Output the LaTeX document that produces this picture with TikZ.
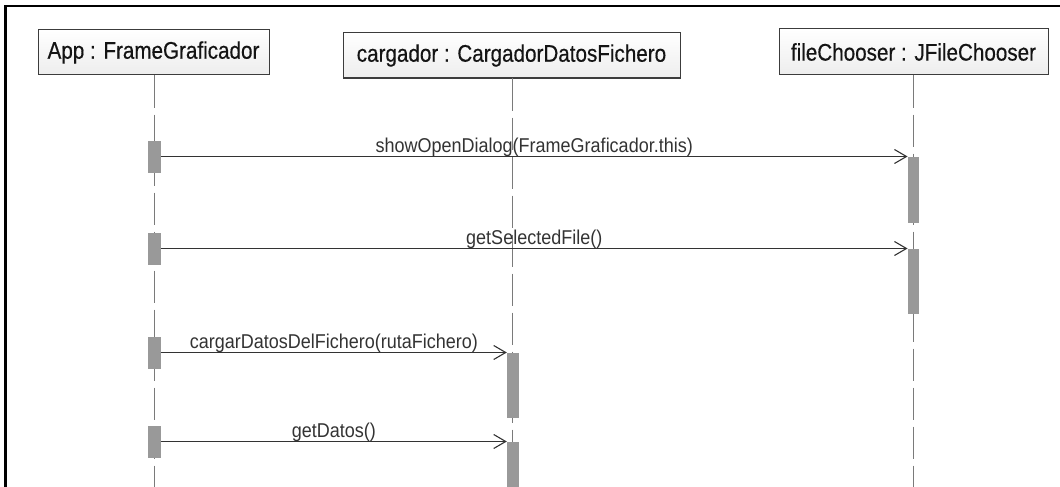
\documentclass[tikz,border=0pt]{standalone}
\usepackage{fontspec}
\setmainfont{Liberation Sans}
\newfontfamily\hdrfont[FakeBold=0.5]{Liberation Sans}
\usetikzlibrary{arrows.meta}
\definecolor{actfill}{HTML}{999999}
\definecolor{lifecol}{HTML}{7A7A7A}
\definecolor{msgcol}{HTML}{333333}
\definecolor{boxborder}{HTML}{3C3C3C}
\tikzset{
  objbox/.style={draw=boxborder, line width=1pt, top color=white, bottom color=gray!14,
    inner sep=0pt, font=\hdrfont\fontsize{24}{28}\selectfont, text=black!92},
  lifeline/.style={draw=lifecol, line width=1pt, dash pattern=on 32pt off 7pt},
  actbox/.style={fill=actfill, draw=none, inner sep=0pt, minimum width=12.5pt},
  msgline/.style={draw=msgcol, line width=1.1pt, -{Straight Barb[length=12pt,width=14pt,line width=1.1pt]}},
  msglabel/.style={anchor=base, yshift=4pt, inner sep=0pt, text=msgcol, font=\fontsize{20}{24}\selectfont},
  framebord/.style={draw=black, line width=2.2pt}
}
\newcommand{\hx}[1]{\scalebox{0.9}[1]{#1}}
\newcommand{\hh}[1]{\scalebox{0.86}[1]{#1}}
\begin{document}
\begin{tikzpicture}[x=1pt,y=-1pt]
\useasboundingbox (0,0) rectangle (1060,487);
% frame
\coordinate (fbl) at (5.5,488);
\coordinate (ftl) at (5.5,6);
\coordinate (ftr) at (1061,6);
\draw[framebord] (fbl) -- (ftl) -- (ftr);
% objects
\node[objbox, minimum width=231pt, minimum height=45pt] (app) at (153.5,52.5) {\hh{App : FrameGraficador}};
\node[objbox, minimum width=337pt, minimum height=45pt] (carg) at (511.5,55.5) {\hh{cargador : CargadorDatosFichero}};
\node[objbox, minimum width=269pt, minimum height=46pt] (fc) at (913.5,52) {\hh{fileChooser : JFileChooser}};
% lifeline ends
\coordinate (append) at (154.5,490);
\coordinate (cargend) at (512.5,490);
\coordinate (fcend) at (913.5,490);
\draw[lifeline] (app.south -| append) -- (append);
\draw[lifeline] (carg.south -| cargend) -- (cargend);
\draw[lifeline] (fc.south -| fcend) -- (fcend);
% activations
\node[actbox, minimum height=32pt] (a1) at (154.5,156.5) {};
\node[actbox, minimum height=32pt] (a2) at (154.5,248.5) {};
\node[actbox, minimum height=32pt] (a3) at (154.5,352.5) {};
\node[actbox, minimum height=32pt] (a4) at (154.5,441.5) {};
\node[actbox, minimum height=66pt, minimum width=11.5pt] (f1) at (913.5,189.5) {};
\node[actbox, minimum height=65pt, minimum width=11.5pt] (f2) at (913.5,281.5) {};
\node[actbox, minimum height=65pt, minimum width=12pt] (c3) at (513,385.5) {};
\node[actbox, minimum height=50pt, minimum width=12pt] (c4) at (513,467) {};
% messages
\draw[msgline] (a1.east) -- (a1.east -| f1.west) node[msglabel, midway] {\hx{showOpenDialog(FrameGraficador.this)}};
\draw[msgline] (a2.east) -- (a2.east -| f2.west) node[msglabel, midway] {\hx{getSelectedFile()}};
\draw[msgline] (a3.east) -- (a3.east -| c3.west) node[msglabel, midway] {\hx{cargarDatosDelFichero(rutaFichero)}};
\draw[msgline] (a4.east) -- (a4.east -| c4.west) node[msglabel, midway] {\hx{getDatos()}};
\end{tikzpicture}
\end{document}
